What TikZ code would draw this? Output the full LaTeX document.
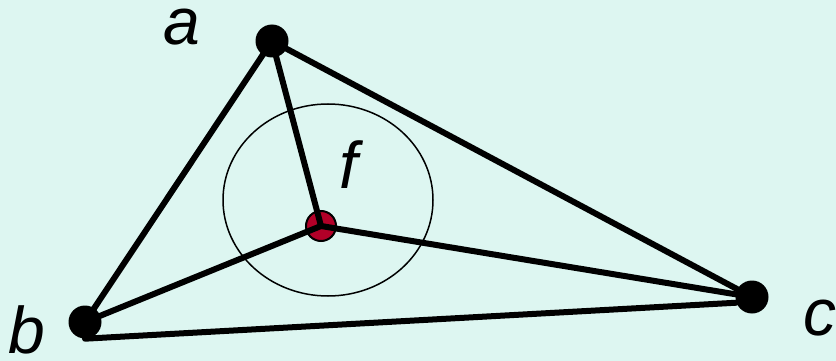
\documentclass[tikz,border=0pt]{standalone}
\usepackage{fontspec}
\setmainfont{Liberation Sans}
\definecolor{bgc}{RGB}{221,246,241}
\definecolor{fred}{RGB}{178,0,40}
\begin{document}
\begin{tikzpicture}[x=1pt,y=-1pt,
  vtx/.style={circle,fill=black,inner sep=0pt,minimum size=33pt},
  fvtx/.style={circle,fill=fred,draw=black,line width=2pt,inner sep=0pt,minimum size=30pt},
  edge/.style={line width=6pt,line cap=round},
  lbl/.style={anchor=base,inner sep=0pt,text depth=0pt,font=\fontsize{66}{70}\selectfont\itshape}]
\fill[bgc] (0,0) rectangle (836,361);
\useasboundingbox (0,0) rectangle (836,361);
\draw[line width=1.5pt] (328,200) ellipse [x radius=105, y radius=96];
\node[vtx] (a) at (272,41) {};
\node[vtx] (b) at (85,322) {};
\node[vtx] (c) at (752,297) {};
\node[fvtx] (f) at (321,226) {};
\draw[edge] (a.center) -- (b.center);
\draw[edge] (a.center) -- (c.center);
\draw[edge] (a.center) -- (f.center);
\draw[edge] (b.center) -- (f.center);
\draw[edge] (f.center) -- (c.center);
\draw[edge] (b.south) -- (c.200);
\node[lbl,text height=36pt] (la) at (182,45) {a};
\node[lbl,text height=46pt] (lb) at (27,353) {b};
\node[lbl,text height=36pt] (lc) at (820,335) {c};
\node[lbl,text height=46pt] (lf) at (349,188) {f};
\end{tikzpicture}
\end{document}
